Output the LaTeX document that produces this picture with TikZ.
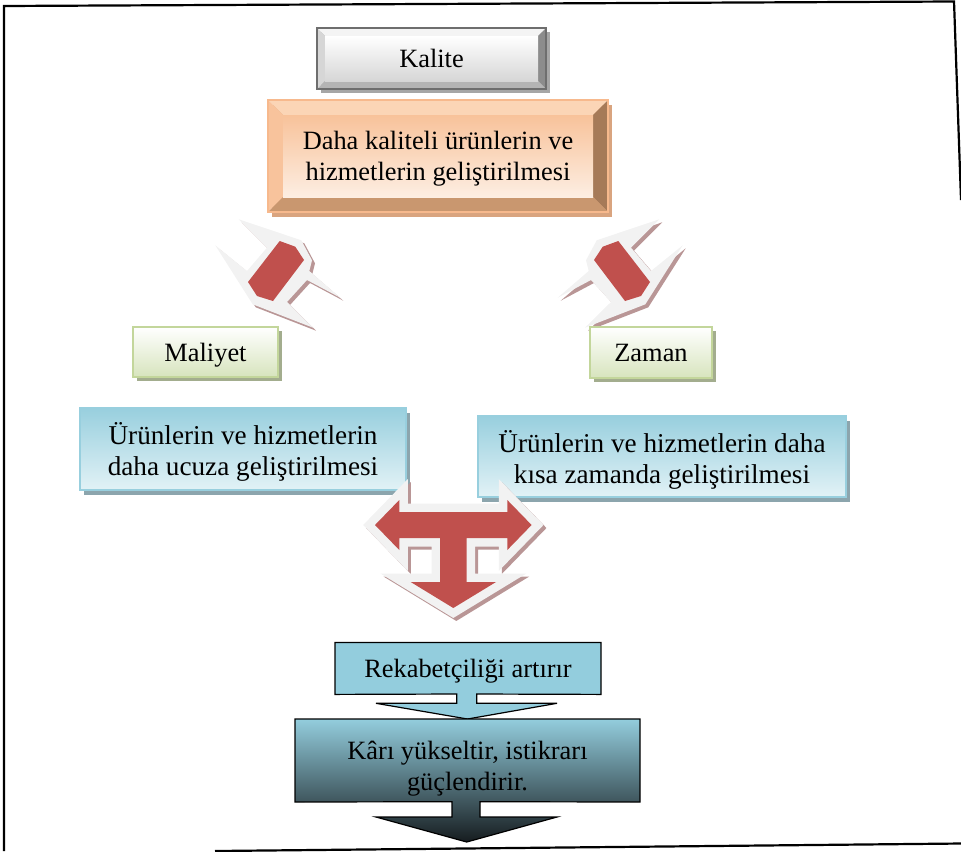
\documentclass[tikz,border=0pt]{standalone}
\usepackage{fontspec}
\setmainfont{Liberation Serif}
\usetikzlibrary{positioning, calc, shadows, backgrounds}

\definecolor{kalline}{HTML}{6E6E6E}
\definecolor{kaltop}{HTML}{F4F4F4}
\definecolor{kalleft}{HTML}{D6D6D6}
\definecolor{kalright}{HTML}{8C8C8C}
\definecolor{kalbottom}{HTML}{B4B4B4}
\definecolor{kalshadow}{HTML}{A6A6A6}
\definecolor{orline}{HTML}{F7B98D}
\definecolor{ortop}{HTML}{FBD5B6}
\definecolor{orleft}{HTML}{F8C39C}
\definecolor{orright}{HTML}{A67A58}
\definecolor{orbottom}{HTML}{C9976F}
\definecolor{orface}{HTML}{F8C29A}
\definecolor{orfacelow}{HTML}{FDEEE2}
\definecolor{orshadow}{HTML}{D9A47F}
\definecolor{greenline}{HTML}{C3D69B}
\definecolor{greenfill}{HTML}{D7E4BD}
\definecolor{greenshadow}{HTML}{A3AD8E}
\definecolor{bluetop}{HTML}{98CFDE}
\definecolor{bluebot}{HTML}{E2F2F6}
\definecolor{blueshadow}{HTML}{8CA5AD}
\definecolor{tealfill}{HTML}{93CDDD}
\definecolor{tealmid}{HTML}{5B8D9A}
\definecolor{tealdark}{HTML}{161C1F}
\definecolor{arrred}{HTML}{C0504D}
\definecolor{arrgray}{HTML}{F2F2F2}
\definecolor{arrshadow}{HTML}{B99696}

% bevel of a box: node, width, top, left, right, bottom
\newcommand{\bevelframe}[6]{%
  \fill[#3] (#1.north west) -- (#1.north east) -- ($(#1.north east)+(-#2,#2)$) -- ($(#1.north west)+(#2,#2)$) -- cycle;
  \fill[#4] (#1.north west) -- ($(#1.north west)+(#2,#2)$) -- ($(#1.south west)+(#2,-#2)$) -- (#1.south west) -- cycle;
  \fill[#5] (#1.north east) -- ($(#1.north east)+(-#2,#2)$) -- ($(#1.south east)+(-#2,-#2)$) -- (#1.south east) -- cycle;
  \fill[#6] (#1.south west) -- ($(#1.south west)+(#2,-#2)$) -- ($(#1.south east)+(-#2,-#2)$) -- (#1.south east) -- cycle;
}
\newcommand{\wingouter}{(238.7,219.3) -- (301.3,240.3) -- (312,260.3) -- (309.3,271) -- (340.3,297.7) -- (307,280) -- (287,302) -- (313,327.7) -- (252.7,304.3) -- (215.3,245.3) -- (247,271) -- (267,247.7) -- cycle}
\newcommand{\winginner}{(279.7,241) -- (295.3,246.7) -- (304,260) -- (273,301) -- (257,296) -- (248,282) -- cycle}
\newcommand{\tarrow}{(375,525) -- (399.3,500) -- (399.3,512) -- (507.3,512) -- (507.3,500) -- (531.6,525) -- (507.3,550) -- (507.3,538) -- (466.7,538) -- (466.7,582) -- (496,582) -- (453.3,608) -- (410.7,582) -- (440,582) -- (440,538) -- (399.3,538) -- (399.3,550) -- cycle}

\begin{document}
\begin{tikzpicture}[x=0.5pt, y=-0.5pt, font=\fontsize{13.2}{15.5}\selectfont,
    bevelnode/.style={inner sep=0pt, outer sep=0pt, align=center, text depth=0pt},
    greenbox/.style={draw=greenline, line width=1.4pt, top color=white, bottom color=greenfill,
      outer sep=0pt, text depth=0pt,
      drop shadow={shadow xshift=2pt, shadow yshift=-2pt, fill=greenshadow, opacity=1}},
    bluebox/.style={draw=bluetop, line width=0.6pt, top color=bluetop, bottom color=bluebot,
      align=center, outer sep=0pt, text depth=0pt, font=\fontsize{13.6}{15.5}\selectfont,
      drop shadow={shadow xshift=2pt, shadow yshift=-2.5pt, fill=blueshadow, opacity=1}},
    callbox/.style={inner sep=0pt, outer sep=0pt, text depth=0pt},
    callline/.style={draw=black, line width=0.6pt}]
    \useasboundingbox (0,0) rectangle (961,851);

    % page frame
    \draw[line width=1.1pt] (4,851) -- (4,6) -- (954,1.5) -- (961,200);
    \draw[line width=1.1pt] (215,851) -- (961,843.5);

    % bevelled boxes
    \node[bevelnode, minimum width=114.5pt, minimum height=30.5pt] (kalite) at (431.5,58.5) {Kalite};
    \node[bevelnode, minimum width=170pt, minimum height=56pt] (gelis) at (438,156)
        {Daha kaliteli ürünlerin ve\\hizmetlerin geliştirilmesi};
    \begin{scope}[on background layer]
        \fill[kalshadow] ([shift={(4,4)}]kalite.north west) rectangle ([shift={(4,4)}]kalite.south east);
        \bevelframe{kalite}{8}{kaltop}{kalleft}{kalright}{kalbottom}
        \shade[top color=white, bottom color=kalleft] ($(kalite.north west)+(8,8)$) rectangle ($(kalite.south east)+(-8,-8)$);
        \draw[kalline, line width=1.3pt] (kalite.north west) rectangle (kalite.south east);
        \fill[orshadow] ([shift={(4,5)}]gelis.north west) rectangle ([shift={(4,5)}]gelis.south east);
        \bevelframe{gelis}{15}{ortop}{orleft}{orright}{orbottom}
        \shade[top color=orface, bottom color=orfacelow] ($(gelis.north west)+(15,15)$) rectangle ($(gelis.south east)+(-15,-15)$);
        \draw[orline, line width=1pt] (gelis.north west) rectangle (gelis.south east);
    \end{scope}

    % the two bracket shapes
    \foreach \m/\s in {1/0, -1/898} {
        \begin{scope}[cm={\m,0,0,1,(\s,0)}]
            \fill[arrshadow, shift={(3*\m,3)}] \wingouter;
            \fill[arrgray] \wingouter;
            \fill[arrred] \winginner;
        \end{scope}
    }

    % factor boxes
    \node[greenbox, minimum width=72.5pt, minimum height=25pt] (maliyet) at (205.5,352) {Maliyet};
    \node[greenbox, minimum width=61pt, minimum height=25.5pt] (zaman) at (651,352.5) {Zaman};
    \node[bluebox, minimum width=163pt, minimum height=41pt] (ucuz) at (243,449)
        {Ürünlerin ve hizmetlerin\\daha ucuza geliştirilmesi};
    \node[bluebox, minimum width=184pt, minimum height=40.5pt] (kisa) at (662,456.5)
        {Ürünlerin ve hizmetlerin daha\\kısa zamanda geliştirilmesi};

    % T arrow
    \filldraw[arrshadow, line width=8.5pt, shift={(3,3)}] \tarrow;
    \filldraw[arrgray, line width=8.5pt] \tarrow;
    \fill[arrred] \tarrow;

    % result boxes
    \node[callbox, minimum width=133pt, minimum height=26pt] (rekabet) at (468,668.4) {Rekabetçiliği artırır};
    \node[callbox, minimum width=172.5pt, minimum height=41.5pt,
        label={[align=center, yshift=-4pt]center:Kârı yükseltir, istikrarı\\güçlendirir.}] (kar) at (467.5,760.5) {};
    \coordinate (karend) at (466.7,842);
    \begin{scope}[on background layer]
        \filldraw[callline, fill=tealfill] (rekabet.north west) -- (rekabet.north east) -- (rekabet.south east)
            -- (476.7,694) -- (476.7,703.3) -- (557,703.3) -- (kar.north) -- (376,703.3)
            -- (456.7,703.3) -- (456.7,694) -- (rekabet.south west) -- cycle;
        \shade[top color=tealfill, middle color=tealmid, bottom color=tealdark]
            (kar.north west) -- (kar.north east) -- (kar.south east) -- (480,801.7) -- (480,817)
            -- (557,817) -- (karend) -- (376,817) -- (452,817) -- (452,801.7) -- (kar.south west) -- cycle;
        \draw[callline] (kar.north west) -- (kar.north east) -- (kar.south east) -- (480,801.7) -- (480,817)
            -- (557,817) -- (karend) -- (376,817) -- (452,817) -- (452,801.7) -- (kar.south west) -- cycle;
    \end{scope}
\end{tikzpicture}
\end{document}
